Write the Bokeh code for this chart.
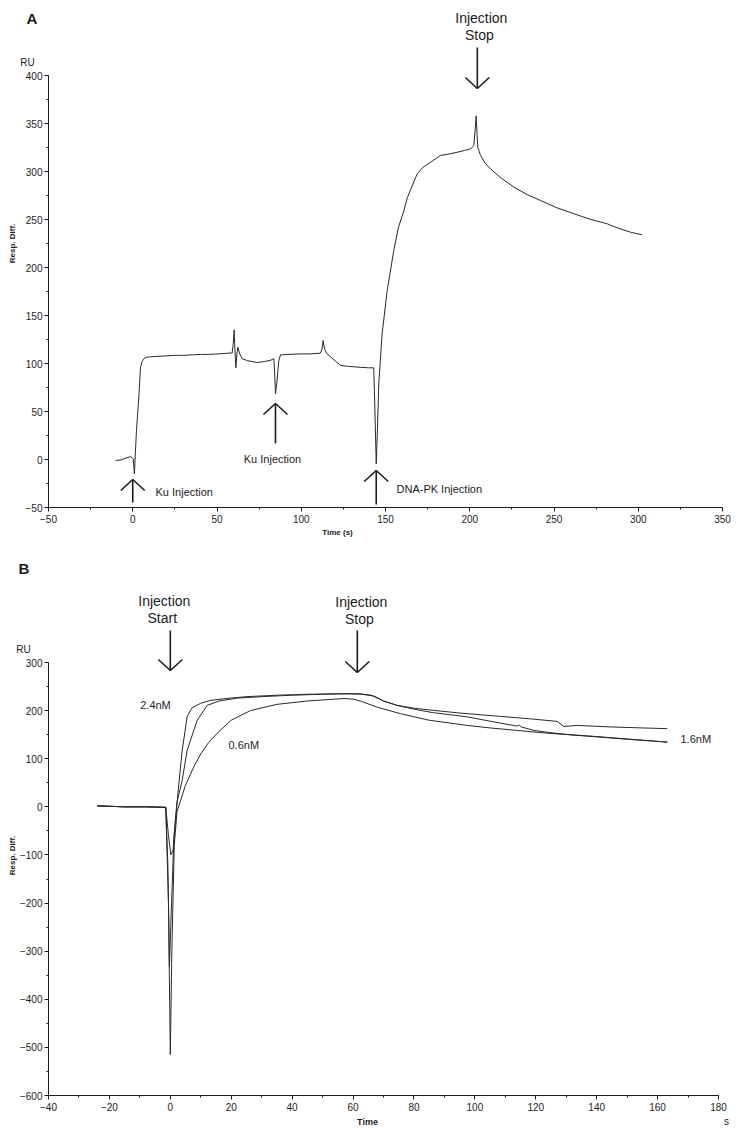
from math import pi
from bokeh.plotting import figure
from bokeh.models import Range1d, SingleIntervalTicker, Label, Arrow, ColumnDataSource
from bokeh.layouts import column
from bokeh.embed import file_html
from bokeh.resources import INLINE

FONT = "Liberation Sans"
INK = "#1c1c1c"

# ---------------- Panel A data (Time s, Resp. Diff. RU) ----------------
a_time = [-10.2, -7, -4, -1.3, 0.3, 1.0, 1.5, 2.2, 3.6, 4.6, 5.5, 6.6, 8, 10.5, 15, 20.4, 25, 30, 35,
          40.2, 45, 51.1, 55, 59.0, 59.6, 60.2, 60.6, 61.2, 61.8, 62.4, 63.5, 65, 68, 73.9, 78, 82,
          83.7, 84.2, 84.7, 85.5, 86.7, 87.7, 92, 100, 105, 111.4, 112.3, 113, 113.8, 115.4, 118,
          123.3, 128, 135.2, 140, 143, 143.6, 144.5, 145.2, 146, 148, 151, 154.9, 157.7, 160.9, 163,
          168.8, 172, 176.7, 182.6, 187, 192.5, 197, 200.5, 202.4, 203.3, 203.8, 204.3, 204.8, 206.4,
          209, 212.3, 218, 226.2, 234, 242, 252, 261.8, 271, 281.6, 288, 295.4, 302.3]
a_resp = [-1, -0.5, 1.5, 3, 0.7, -15, 5, 30, 65, 96, 102, 105, 106.5, 107, 107.5, 108, 108.5, 108.5, 109,
          109.4, 109.5, 110, 110.5, 111, 120, 135, 115, 95.5, 110, 117, 110, 105, 103, 101, 102, 103.5,
          105, 90, 68.4, 80, 103, 109, 109.5, 110, 110, 110.7, 115, 124, 115, 110, 106,
          98, 97, 96, 95.5, 95.5, 60, -4.5, 30, 78.8, 131, 176, 217.7, 242, 259, 273,
          297.6, 304, 309.7, 316.7, 318, 320, 322, 323.6, 327, 345, 358, 340, 325, 316.7,
          309, 302.8, 294, 283.7, 276, 269.8, 262, 256, 250.5, 245.5, 241, 236.8, 234]
a_ku_events = [0, 84.7]
a_dnapk_event = 144.5
a_stop_event = 204.5

# ---------------- Panel B data (Time s, Resp. Diff. RU) ----------------
b_t_24 = [-24, -15, -8, -1.5, -0.6, 0.2, 0.9, 1.8, 2.8, 3.9, 5.5, 7, 9.9, 13, 18, 25, 35, 45, 55, 62,
          66, 70, 74.5, 80, 86.5, 95, 108.4, 118, 127, 129.2, 133.6, 145, 155, 163.2]
b_r_24 = [2, 0, 0, -1, -60, -100, -90, -20, 48, 117, 187, 205, 215, 221, 225, 229, 232, 234, 235, 235,
          232, 220, 210.8, 205, 200.4, 195, 188, 183, 177.6, 167, 169.2, 166, 164, 162.5]
b_t_16 = [-24, -15, -8, -1.5, -0.8, -0.3, 0.4, 1.2, 2.2, 3.9, 5.5, 8.8, 12.1, 16, 22, 30, 40, 50, 58, 63,
          67, 70, 74.5, 80, 86, 97.5, 105, 113.9, 114.6, 115.3, 119.4, 125, 130.4, 140, 150, 163.2]
b_r_16 = [2, 0, 0, -1, -120, -333, -200, -60, 10, 55, 117, 179.6, 210.8, 220, 226, 229, 232, 234, 235, 234,
          230, 220, 210.8, 203, 196, 187, 178, 167.8, 170, 166, 158.8, 154, 150.5, 146, 141, 134.5]
b_t_06 = [-24, -15, -8, -1.5, -0.6, 0.0, 0.5, 1.3, 2.2, 3.3, 5, 7.7, 10, 12.5, 15.4, 20, 26.3, 35, 45, 52,
          57, 60, 62.5, 68, 75.6, 85, 97.5, 105, 113.9, 122, 130.4, 140, 150, 163.2]
b_r_06 = [2, 0, 0, -1, -200, -515, -300, -80, -10, 12, 45, 83, 110, 133, 153, 180, 200, 213, 220, 223,
          225, 224, 219.7, 207, 193.6, 180, 169.2, 164, 158.8, 154, 150, 145.5, 140.5, 134.5]
b_start_event = 0
b_stop_event = 61.4

# ---------------- layout geometry (page pixels) ----------------
A_FRAME = (48, 75, 722, 507)      # axis box: left, top, right, bottom (page px)
B_FRAME = (48, 662, 718, 1095)
A_AXES_X, A_AXES_Y = (-50, 350), (-50, 400)
B_AXES_X, B_AXES_Y = (-40, 180), (-600, 300)
W = 739
A_TOP, B_TOP, PAGE_H = 0, 545, 1135


def make_conv(frame, xr, yr):
    l, t, r, b = frame
    kx = (xr[1] - xr[0]) / (r - l)
    ky = (yr[1] - yr[0]) / (b - t)

    def conv(px, py):
        return xr[0] + (px - l) * kx, yr[0] + (b - py) * ky

    def to_px(x):
        return l + (x - xr[0]) / kx
    return conv, to_px


convA, pxA = make_conv(A_FRAME, A_AXES_X, A_AXES_Y)
convB, pxB = make_conv(B_FRAME, B_AXES_X, B_AXES_Y)


def make_fig(conv, top, bottom, axes_x, axes_y, xint, yint):
    x0, y_top = conv(0, top)
    x1, y_bot = conv(W, bottom)
    p = figure(width=W, height=bottom - top, x_range=Range1d(x0, x1), y_range=Range1d(y_bot, y_top),
               output_backend="svg", toolbar_location=None, min_border=0)
    p.outline_line_color = None
    p.grid.visible = False
    p.background_fill_color = "white"
    p.border_fill_color = "white"
    p.xaxis.fixed_location = axes_y[0]
    p.yaxis.fixed_location = axes_x[0]
    p.xaxis.bounds = axes_x
    p.yaxis.bounds = axes_y
    p.xaxis.ticker = SingleIntervalTicker(interval=xint, num_minor_ticks=2)
    p.yaxis.ticker = SingleIntervalTicker(interval=yint, num_minor_ticks=2)
    for ax in (p.xaxis, p.yaxis):
        ax.axis_line_color = INK
        ax.axis_line_width = 1
        ax.major_tick_line_color = INK
        ax.minor_tick_line_color = INK
        ax.major_tick_out = 4
        ax.major_tick_in = 0
        ax.minor_tick_out = 2
        ax.minor_tick_in = 0
        ax.major_label_text_font = FONT
        ax.major_label_text_font_size = "10px"
        ax.major_label_text_color = INK
    p.xaxis.major_label_standoff = 3
    p.yaxis.major_label_standoff = 2
    return p


def text(p, conv, px, py, s, size="11px", bold=False, align="center", angle=0):
    x, y = conv(px, py)
    p.add_layout(Label(x=x, y=y, text=s, text_font=FONT, text_font_size=size,
                       text_font_style="bold" if bold else "normal", text_color=INK,
                       text_align=align, text_baseline="middle", angle=angle))


def arrows(p, conv, specs):
    # specs: (page_x, tail_py, tip_py); open V head drawn as two short strokes
    xs0, ys0, xs1, ys1 = [], [], [], []
    for px, tail, tip in specs:
        d = 1 if tip > tail else -1
        segs = [((px, tail), (px, tip)),
                ((px, tip), (px - 12, tip - d * 11)),
                ((px, tip), (px + 12, tip - d * 11))]
        for (a, b_), (c, e) in segs:
            xa, ya = conv(a, b_)
            xb, yb = conv(c, e)
            xs0.append(xa); ys0.append(ya); xs1.append(xb); ys1.append(yb)
    src = ColumnDataSource(dict(x0=xs0, y0=ys0, x1=xs1, y1=ys1))
    p.add_layout(Arrow(x_start="x0", y_start="y0", x_end="x1", y_end="y1", source=src,
                       end=None, line_color=INK, line_width=1.6))


# ---------------- Panel A ----------------
pA = make_fig(convA, A_TOP, B_TOP, A_AXES_X, A_AXES_Y, 50, 50)
pA.line(a_time, a_resp, line_color="#2a2a2a", line_width=1)

text(pA, convA, 26, 18, "A", size="15px", bold=True, align="left")
text(pA, convA, 27, 62, "RU", size="10px")
text(pA, convA, 12, 243, "Resp. Diff.", size="8px", bold=True, angle=pi / 2)
text(pA, convA, 337, 532, "Time (s)", size="8px", bold=True)
text(pA, convA, 155, 491, "Ku Injection", size="11px", align="left")
text(pA, convA, 272, 458, "Ku Injection", size="11px")
text(pA, convA, 396, 488, "DNA-PK Injection", size="11px", align="left")
sx = pxA(a_stop_event)
text(pA, convA, sx + 4, 17, "Injection", size="14px")
text(pA, convA, sx + 2, 34, "Stop", size="14px")
arrows(pA, convA, [(pxA(a_ku_events[0]), 502, 479),
                   (pxA(a_ku_events[1]), 443, 403),
                   (pxA(a_dnapk_event), 504, 470),
                   (sx, 47, 88)])

# ---------------- Panel B ----------------
pB = make_fig(convB, B_TOP, PAGE_H, B_AXES_X, B_AXES_Y, 20, 100)
for t, r in ((b_t_06, b_r_06), (b_t_16, b_r_16), (b_t_24, b_r_24)):
    pB.line(t, r, line_color="#2a2a2a", line_width=1)

text(pB, convB, 18, 568, "B", size="15px", bold=True, align="left")
text(pB, convB, 23, 649, "RU", size="10px")
text(pB, convB, 12, 855, "Resp. Diff.", size="8px", bold=True, angle=pi / 2)
text(pB, convB, 367, 1121, "Time", size="9px", bold=True)
text(pB, convB, 726, 1121, "s", size="10px")
text(pB, convB, 155, 704, "2.4nM", size="11px")
text(pB, convB, 228, 744, "0.6nM", size="11px", align="left")
text(pB, convB, 680, 738, "1.6nM", size="11px", align="left")
bs = pxB(b_start_event)
be = pxB(b_stop_event)
text(pB, convB, bs - 6, 600, "Injection", size="14px")
text(pB, convB, bs - 8, 617, "Start", size="14px")
text(pB, convB, be + 4, 601, "Injection", size="14px")
text(pB, convB, be + 2, 618, "Stop", size="14px")
arrows(pB, convB, [(bs, 630, 670), (be, 630, 672)])

layout = column(pA, pB, spacing=0)
open("out.html", "w").write(file_html(layout, INLINE))
